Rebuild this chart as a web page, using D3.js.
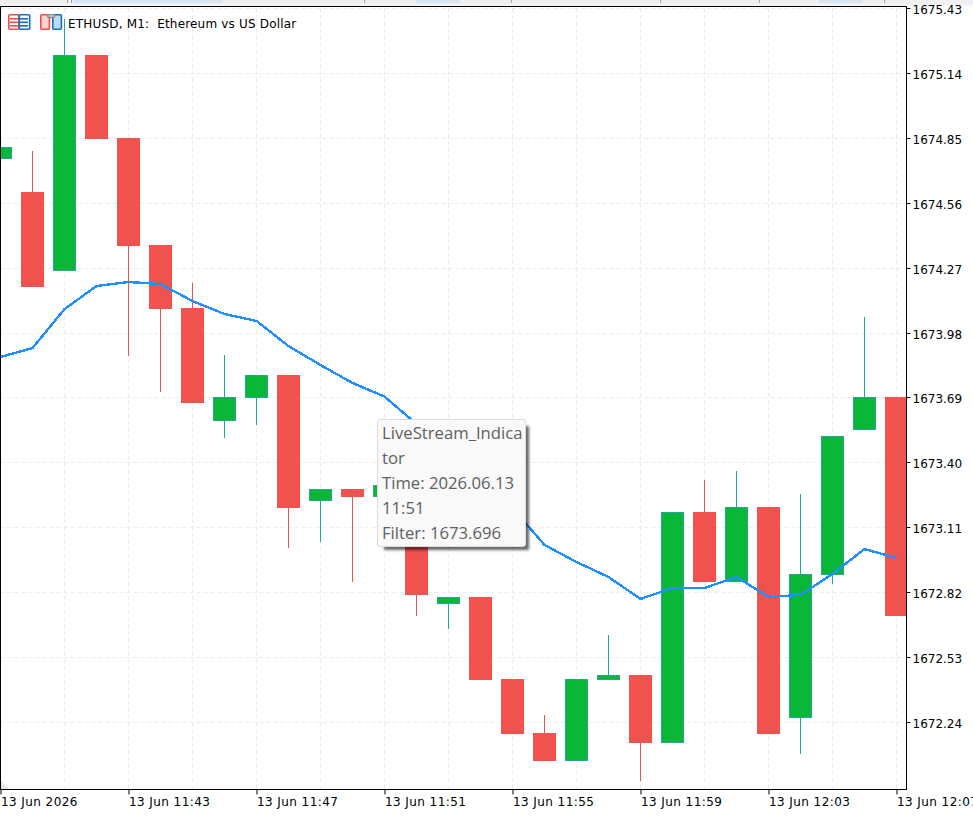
<!DOCTYPE html>
<html>
<head>
<meta charset="utf-8">
<title>ETHUSD, M1</title>
<script src="https://cdn.jsdelivr.net/npm/d3@7"></script>
<style>
  html, body { margin: 0; padding: 0; background: #fff; overflow: hidden; }
  #chart { position: relative; width: 973px; height: 816px; }
  svg { display: block; position: absolute; left: 0; top: 0; }
  .axis-label { font-family: "DejaVu Sans", sans-serif; font-size: 12px; fill: #000; }
  .time-label { letter-spacing: 0.42px; }
  #tip {
    position: absolute; left: 377px; top: 419px; width: 149px; height: 128px;
    box-sizing: border-box; padding: 0 0 0 4px;
    background: #f9f9f9; border: 1px solid #dcdcdc; border-radius: 3px;
    box-shadow: 5px 5px 3px -2px rgba(0,0,0,.6);
    font-family: "Open Sans", sans-serif; font-size: 16.7px; line-height: 25px; color: #606060;
    white-space: nowrap;
  }
</style>
</head>
<body>
<div id="chart"></div>
<script>
// One-minute bars, 11:39 to 12:07 on 13 Jun 2026
const minutes = ["11:39","11:40","11:41","11:42","11:43","11:44","11:45","11:46","11:47","11:48",
  "11:49","11:50","11:51","11:52","11:53","11:54","11:55","11:56","11:57","11:58",
  "11:59","12:00","12:01","12:02","12:03","12:04","12:05","12:06","12:07"];
const opens = [1674.758,1674.610,1674.257,1675.222,1674.851,1674.373,1674.092,1673.587,1673.690,1673.793,
  1673.230,1673.283,1673.248,1673.301,1672.770,1672.801,1672.434,1672.193,1672.068,1672.430,
  1672.452,1672.149,1673.181,1672.868,1673.203,1672.260,1672.899,1673.547,1673.694];
const highs = [1674.811,1674.793,1675.383,1675.222,1674.851,1674.373,1674.204,1673.882,1673.793,1673.793,
  1673.283,1673.283,1673.301,1673.301,1672.801,1672.801,1672.434,1672.274,1672.434,1672.631,
  1672.452,1673.181,1673.324,1673.364,1673.203,1673.261,1673.520,1674.052,1673.694];
const lows = [1674.758,1674.186,1674.257,1674.847,1673.878,1673.717,1673.668,1673.511,1673.569,1673.020,
  1673.047,1672.868,1673.248,1672.716,1672.658,1672.430,1672.189,1672.068,1672.068,1672.430,
  1671.979,1672.149,1672.868,1672.868,1672.189,1672.099,1672.859,1673.547,1672.716];
const closes = [1674.811,1674.186,1675.222,1674.847,1674.369,1674.087,1673.668,1673.694,1673.793,1673.198,
  1673.283,1673.248,1673.301,1672.810,1672.801,1672.430,1672.189,1672.068,1672.434,1672.452,
  1672.149,1673.181,1672.868,1673.203,1672.189,1672.904,1673.520,1673.694,1672.716];
// LiveStream_Indicator "Filter" buffer
const filter = [1673.873,1673.913,1674.087,1674.190,1674.208,1674.199,1674.123,1674.065,1674.034,1673.922,
  1673.837,1673.757,1673.696,1673.574,1673.449,1673.332,1673.198,1673.033,1672.957,1672.890,
  1672.792,1672.841,1672.841,1672.890,1672.801,1672.810,1672.904,1673.015,1672.975];

const priceTicks = [1675.43,1675.14,1674.85,1674.56,1674.27,1673.98,1673.69,1673.40,1673.11,1672.82,1672.53,1672.24];
const timeTicks = ["11:39","11:43","11:47","11:51","11:55","11:59","12:03","12:07"];
const gridTimes = minutes.filter((m, i) => i % 2 === 0);
const chartTitle = "ETHUSD, M1:  Ethereum vs US Dollar";
const tipLines = ["LiveStream_Indica", "tor", "Time: 2026.06.13", "11:51", "Filter: 1673.696"];

const width = 973, height = 816;
const plot = { left: 0.5, right: 906.5, top: 6.5, bottom: 789.5 };
const colors = { up: "#09b636", upEdge: "#26a69a", down: "#ef5350", line: "#1e90ff", grid: "#ececec" };

const parseMinute = d3.timeParse("%Y-%m-%d %H:%M");
const toDate = m => parseMinute("2026-06-13 " + m);

const x = d3.scaleTime()
  .domain([toDate(minutes[0]), toDate(minutes[minutes.length - 1])])
  .range([0.5, 896.5]);
const y = d3.scaleLinear()
  .domain([priceTicks[0], priceTicks[priceTicks.length - 1]])
  .range([8.5, 722.5]);
const py = v => Math.round(y(v));   // snap prices to whole pixel rows

const bars = minutes.map((m, i) => ({
  t: toDate(m), open: opens[i], high: highs[i], low: lows[i], close: closes[i], up: closes[i] >= opens[i]
}));

const svg = d3.select("#chart").append("svg").attr("width", width).attr("height", height);

// Terminal tab strip along the top edge
svg.append("rect").attr("width", width).attr("height", 5.5).attr("fill", "#f0f0f0");
[[74, 148], [416, 44], [819, 44]].forEach(([a, w]) =>
  svg.append("rect").attr("x", a).attr("width", w).attr("height", 3).attr("fill", "#d8e6f2"));
[67, 71, 364, 511, 660, 759, 884].forEach(a =>
  svg.append("rect").attr("x", a).attr("width", 1).attr("height", 3).attr("fill", "#a0a0a0"));

svg.append("defs").append("clipPath").attr("id", "plot-clip")
  .append("rect").attr("x", 0).attr("y", plot.top)
  .attr("width", plot.right).attr("height", plot.bottom - plot.top);

const area = svg.append("g").attr("clip-path", "url(#plot-clip)");

// Dashed grid
const grid = area.append("g").attr("stroke", colors.grid).attr("stroke-dasharray", "4,3");
grid.selectAll("line.h").data(priceTicks).join("line").attr("class", "h")
  .attr("x1", plot.left).attr("x2", plot.right)
  .attr("y1", d => Math.floor(y(d)) + 0.5).attr("y2", d => Math.floor(y(d)) + 0.5);
grid.selectAll("line.v").data(gridTimes).join("line").attr("class", "v")
  .attr("x1", d => x(toDate(d))).attr("x2", d => x(toDate(d)))
  .attr("y1", 8).attr("y2", plot.bottom);

// Corner mark in the lower left of the plot
area.append("path").attr("d", "M1 781 L9 789 L1 789 Z").attr("fill", "#e6e6e6");

// Candles: wick first, body over it
const candle = area.append("g").selectAll("g").data(bars).join("g");
candle.append("line")
  .attr("x1", d => x(d.t)).attr("x2", d => x(d.t))
  .attr("y1", d => py(d.high)).attr("y2", d => py(d.low))
  .attr("stroke", d => d.up ? colors.upEdge : colors.down);
candle.append("rect")
  .attr("x", d => x(d.t) - 11)
  .attr("y", d => py(Math.max(d.open, d.close)) + 0.5)
  .attr("width", 22)
  .attr("height", d => py(Math.min(d.open, d.close)) - py(Math.max(d.open, d.close)) - 1)
  .attr("fill", d => d.up ? colors.up : colors.down)
  .attr("stroke", d => d.up ? colors.upEdge : colors.down);

// Filter line
area.append("path")
  .datum(filter)
  .attr("fill", "none").attr("stroke", colors.line).attr("stroke-width", 2.4)
  .attr("shape-rendering", "crispEdges")
  .attr("d", d3.line().x((d, i) => x(toDate(minutes[i]))).y(d => y(d)));

// Frame
svg.append("rect").attr("x", plot.left).attr("y", plot.top)
  .attr("width", plot.right - plot.left).attr("height", plot.bottom - plot.top)
  .attr("fill", "none").attr("stroke", "#000");

// Price scale
const yAxis = d3.axisRight(y).tickValues(priceTicks).tickFormat(d3.format(".2f")).tickSize(4).tickPadding(2);
const yg = svg.append("g").attr("transform", `translate(${plot.right},0)`).call(yAxis);
yg.select(".domain").remove();
yg.selectAll(".tick").attr("transform", d => `translate(0,${Math.floor(y(d)) + 0.5})`);
yg.selectAll("line").attr("stroke", "#000");
yg.selectAll("text").attr("class", "axis-label").attr("font-family", null).attr("font-size", null)
  .attr("dy", "0.47em");

// Time scale; the first label carries the date
const xAxis = d3.axisBottom(x).tickValues(timeTicks.map(toDate))
  .tickFormat((d, i) => i === 0 ? "13 Jun 2026" : "13 Jun " + d3.timeFormat("%H:%M")(d))
  .tickSize(5).tickPadding(3);
const xg = svg.append("g").attr("transform", `translate(0,${plot.bottom})`).call(xAxis);
xg.select(".domain").remove();
xg.selectAll("line").attr("stroke", "#000");
xg.selectAll("text").attr("class", "axis-label time-label").attr("font-family", null).attr("font-size", null)
  .attr("text-anchor", "start").attr("dx", 0);

// Toolbar glyphs: object list and data window
const icons = svg.append("g").attr("stroke-width", 1.6);
const iconRect = (a, b, w, h, fill, stroke) => icons.append("rect")
  .attr("x", a + 0.8).attr("y", b + 0.8).attr("width", w).attr("height", h).attr("rx", 1)
  .attr("fill", fill).attr("stroke", stroke);
iconRect(8, 14, 10, 14.4, "#fff", "#e8514d");
iconRect(18.5, 14, 10.4, 14.4, "#fff", "#1a70b8");
[18, 21.5, 25].forEach(b => {
  icons.append("rect").attr("x", 10).attr("y", b).attr("width", 8).attr("height", 1.6).attr("fill", "#e8514d").attr("stroke", "none");
  icons.append("rect").attr("x", 20).attr("y", b).attr("width", 8).attr("height", 1.6).attr("fill", "#1a70b8").attr("stroke", "none");
});
iconRect(40, 14, 8.6, 14.4, "#fcd3cf", "#e8514d");
iconRect(52, 14, 8.6, 14.4, "#b9dcfa", "#1a70b8");
iconRect(47, 14, 6.6, 2.6, "#f2f2f2", "#8c8c8c");

svg.append("text").attr("x", 68).attr("y", 28)
  .style("white-space", "pre").style("letter-spacing", "0.18px")
  .attr("font-family", "DejaVu Sans, sans-serif").attr("font-size", 12)
  .text(chartTitle);

// Hover tooltip for the 11:51 bar
const tip = d3.select("#chart").append("div").attr("id", "tip");
tip.selectAll("div").data(tipLines).join("div").text(d => d);
</script>
</body>
</html>
